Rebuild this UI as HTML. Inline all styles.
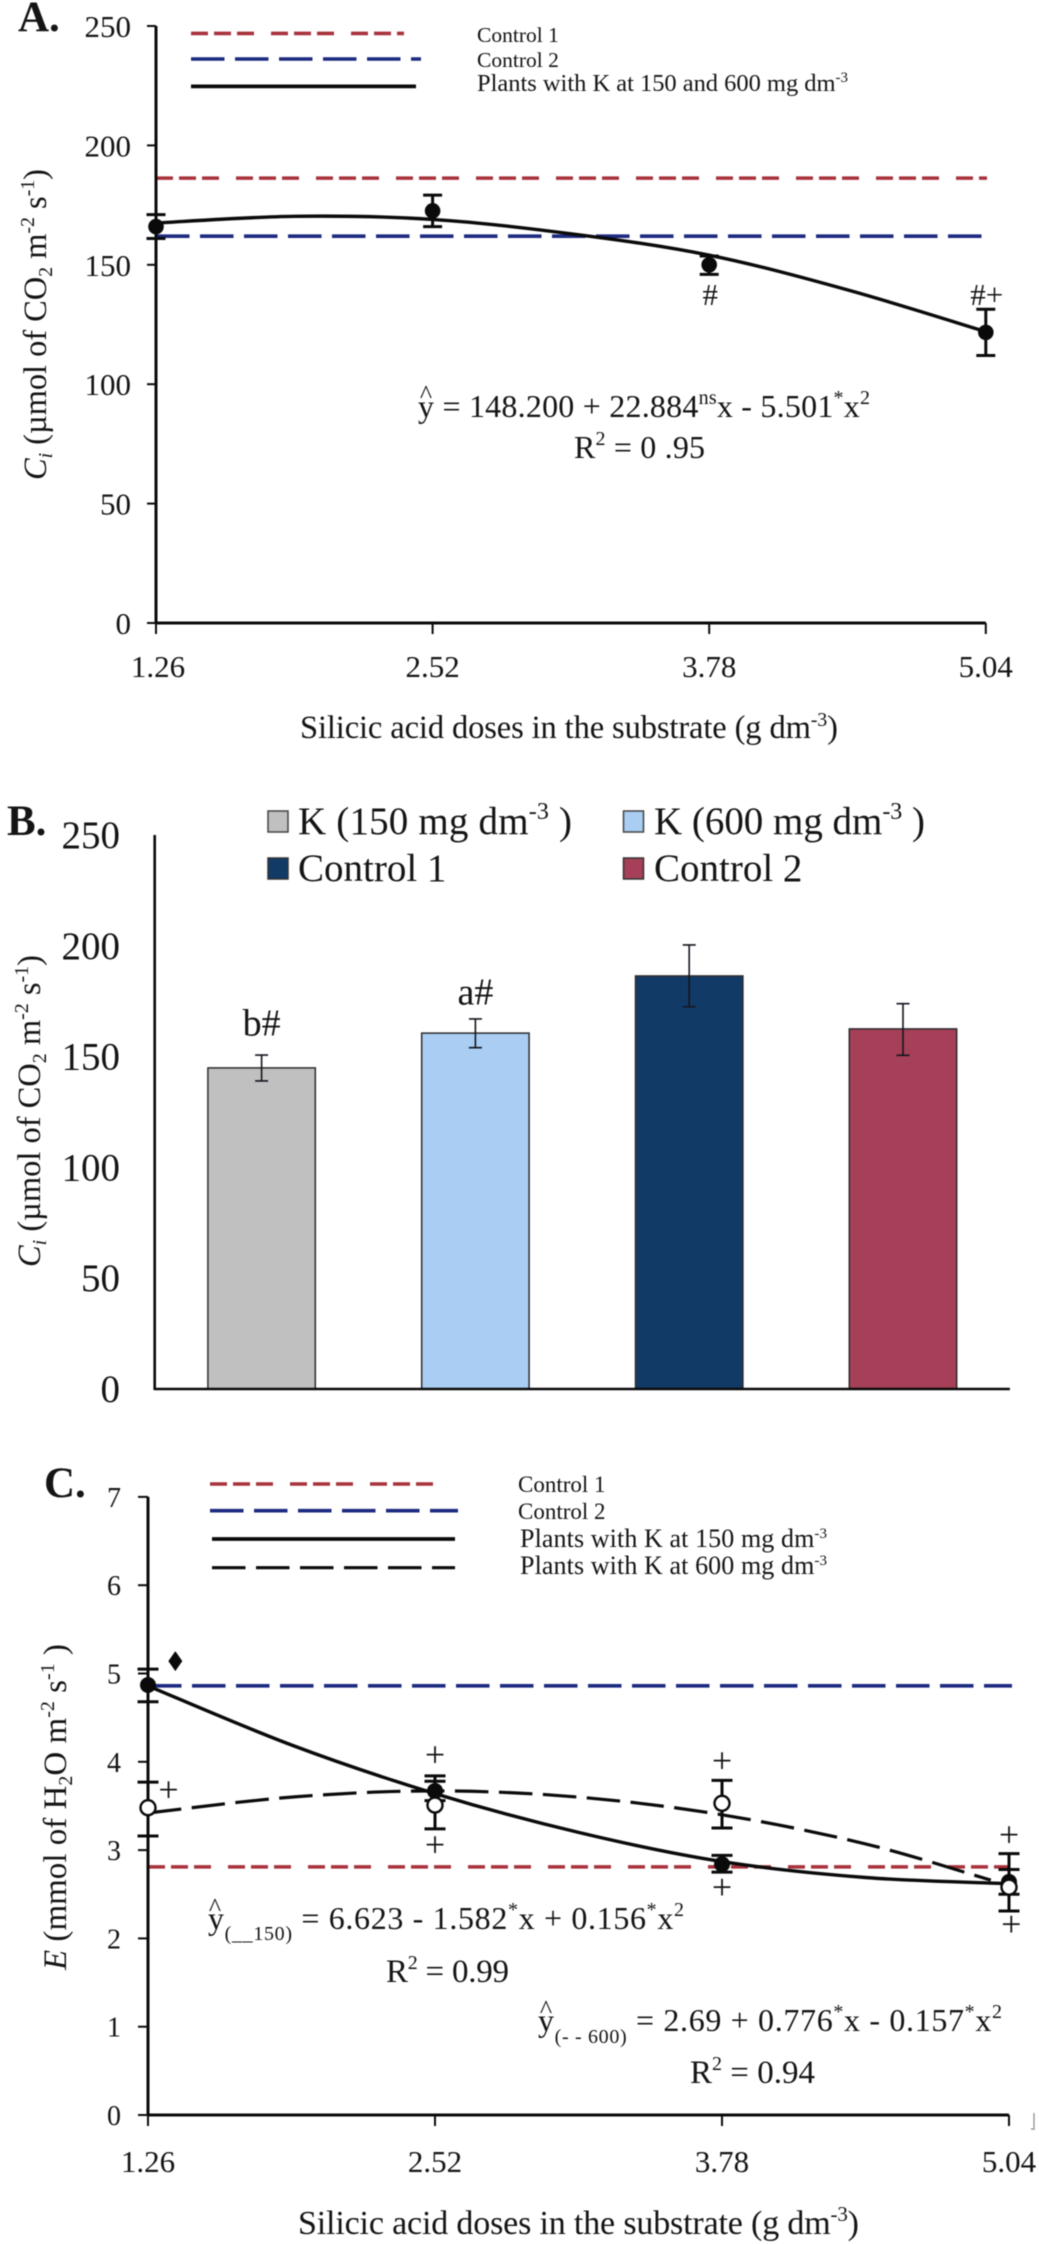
<!DOCTYPE html>
<html lang="en">
<head>
<meta charset="utf-8">
<title>Ci and E versus silicic acid doses</title>
<style>
html,body{margin:0;padding:0;background:#fff;width:1039px;height:2244px;overflow:hidden}
svg{display:block;filter:blur(0.45px)}
text{font-family:"Liberation Serif",serif;fill:#141414}
</style>
</head>
<body>
<svg id="figure" xmlns="http://www.w3.org/2000/svg" width="1039" height="2244" viewBox="0 0 1039 2244">
<rect width="1039" height="2244" fill="#fff"/>

<g id="panel-a"></g>
<g id="panel-b"></g>
<g id="panel-c"></g>

<g>
<text x="18" y="31" font-size="43" font-weight="bold">A.</text>
<text x="477" y="42" font-size="21.5">Control 1</text>
<text x="477" y="67" font-size="21.5">Control 2</text>
<text x="477" y="91" font-size="24.5" textLength="371">Plants with K at 150 and 600 mg dm<tspan font-size="15" dy="-9">-3</tspan></text>
<text transform="translate(46,480) rotate(-90)" font-size="32.5" textLength="311"><tspan font-style="italic">C</tspan><tspan font-style="italic" font-size="20" dy="6">i</tspan><tspan dy="-6"> (µmol of CO</tspan><tspan font-size="20" dy="6">2</tspan><tspan dy="-6"> m</tspan><tspan font-size="20" dy="-12">-2</tspan><tspan dy="12"> s</tspan><tspan font-size="20" dy="-12">-1</tspan><tspan dy="12">)</tspan></text>
<text x="300" y="738" font-size="32.5" textLength="538">Silicic acid doses in the substrate (g dm<tspan font-size="20" dy="-12">-3</tspan><tspan dy="12">)</tspan></text>
<text x="426" y="403" font-size="26" text-anchor="middle">^</text>
<text x="418" y="417" font-size="32" textLength="452">y = 148.200 + 22.884<tspan font-size="20" dy="-13">ns</tspan><tspan dy="13">x - 5.501</tspan><tspan font-size="20" dy="-13">*</tspan><tspan dy="13">x</tspan><tspan font-size="20" dy="-13">2</tspan></text>
<text x="574" y="458" font-size="32" textLength="131">R<tspan font-size="20" dy="-13">2</tspan><tspan dy="13"> = 0 .95</tspan></text>
</g>

<g>
<text x="7" y="835" font-size="43" font-weight="bold">B.</text>
<rect x="268" y="811" width="20" height="21" fill="#c0c0c0" stroke="#444" stroke-width="1.5"/>
<text x="298" y="834" font-size="39" textLength="274">K (150 mg dm<tspan font-size="24" dy="-15">-3</tspan><tspan dy="15"> )</tspan></text>
<rect x="623.5" y="811" width="20" height="21" fill="#a9cdf3" stroke="#444" stroke-width="1.5"/>
<text x="654" y="834" font-size="39" textLength="271">K (600 mg dm<tspan font-size="24" dy="-15">-3</tspan><tspan dy="15"> )</tspan></text>
<rect x="268" y="858" width="20" height="21" fill="#123a66" stroke="#333" stroke-width="1.5"/>
<text x="298" y="881" font-size="39">Control 1</text>
<rect x="623.5" y="858" width="20" height="21" fill="#a54058" stroke="#333" stroke-width="1.5"/>
<text x="654" y="881" font-size="39">Control 2</text>
<text transform="translate(40,1267) rotate(-90)" font-size="32.5" textLength="312"><tspan font-style="italic">C</tspan><tspan font-style="italic" font-size="20" dy="6">i</tspan><tspan dy="-6"> (µmol of CO</tspan><tspan font-size="20" dy="6">2</tspan><tspan dy="-6"> m</tspan><tspan font-size="20" dy="-12">-2</tspan><tspan dy="12"> s</tspan><tspan font-size="20" dy="-12">-1</tspan><tspan dy="12">)</tspan></text>
</g>

<g>
<text x="44" y="1497" font-size="43" font-weight="bold">C.</text>
<text x="518" y="1492" font-size="23">Control 1</text>
<text x="518" y="1519" font-size="23">Control 2</text>
<text x="520" y="1547" font-size="26" textLength="307">Plants with K at 150 mg dm<tspan font-size="15" dy="-9">-3</tspan></text>
<text x="520" y="1574" font-size="26" textLength="307">Plants with K at 600 mg dm<tspan font-size="15" dy="-9">-3</tspan></text>
<text transform="translate(66,1970) rotate(-90)" font-size="33" textLength="326"><tspan font-style="italic">E</tspan> (mmol of H<tspan font-size="20" dy="6">2</tspan><tspan dy="-6">O m</tspan><tspan font-size="20" dy="-12">-2</tspan><tspan dy="12"> s</tspan><tspan font-size="20" dy="-12">-1</tspan><tspan dy="12"> )</tspan></text>
<text x="298" y="2234" font-size="34" textLength="561">Silicic acid doses in the substrate (g dm<tspan font-size="21" dy="-13">-3</tspan><tspan dy="13">)</tspan></text>
<text x="215" y="1916" font-size="26" text-anchor="middle">^</text>
<text x="208" y="1929" font-size="32" textLength="476">y<tspan font-size="20" dy="11">(__150)</tspan><tspan dy="-11"> = 6.623 - 1.582</tspan><tspan font-size="20" dy="-13">*</tspan><tspan dy="13">x + 0.156</tspan><tspan font-size="20" dy="-13">*</tspan><tspan dy="13">x</tspan><tspan font-size="20" dy="-13">2</tspan></text>
<text x="386" y="1982" font-size="33" textLength="123">R<tspan font-size="20" dy="-13">2</tspan><tspan dy="13"> = 0.99</tspan></text>
<text x="546" y="2018" font-size="26" text-anchor="middle">^</text>
<text x="538" y="2031" font-size="32" textLength="464">y<tspan font-size="20" dy="12">(- - 600)</tspan><tspan dy="-12"> = 2.69 + 0.776</tspan><tspan font-size="20" dy="-13">*</tspan><tspan dy="13">x - 0.157</tspan><tspan font-size="20" dy="-13">*</tspan><tspan dy="13">x</tspan><tspan font-size="20" dy="-13">2</tspan></text>
<text x="690" y="2083" font-size="33" textLength="125">R<tspan font-size="20" dy="-13">2</tspan><tspan dy="13"> = 0.94</tspan></text>
<path d="M1034 2113V2128M1031 2129H1035" stroke="#888" stroke-width="1.2" fill="none"/>
</g>

<script>
/* Panel A data */
const aDoseTicks = [1.26, 2.52, 3.78, 5.04];
const aDoseLabels = ['1.26', '2.52', '3.78', '5.04'];
const aYTicks = [0, 50, 100, 150, 200, 250];
const aMeans = [166, 172.6, 150, 121.7];
const aErrTop = [171, 179.2, 153.7, 131.4];
const aErrBottom = [161, 166, 146, 112];
const aFitDoses = [1.26, 1.89, 2.52, 3.15, 3.78, 4.41, 5.04];
const aFitValues = [167.5, 170.3, 169, 163, 154, 139.5, 122];
const aControl1 = 186.3;
const aControl2 = 162;
const aSigLabels = ['', '', '#', '#+'];
const aSigValues = [0, 0, 133.2, 133.2];

/* Panel B data */
const bCategories = ['K 150', 'K 600', 'Control 1', 'Control 2'];
const bValues = [144.9, 160.6, 186.4, 162.5];
const bErrTop = [150.7, 167, 200.4, 173.9];
const bErrBottom = [139, 154, 172.5, 150.6];
const bLabels = ['b#', 'a#', '', ''];
const bLabelValues = [159.5, 173.5, 0, 0];
const bYTicks = [0, 50, 100, 150, 200, 250];
const bFills = ['#c0c0c0', '#a9cdf3', '#123a66', '#a54058'];

/* Panel C data */
const cDoseTicks = [1.26, 2.52, 3.78, 5.04];
const cDoseLabels = ['1.26', '2.52', '3.78', '5.04'];
const cYTicks = [0, 1, 2, 3, 4, 5, 6, 7];
const cMeans150 = [4.87, 3.67, 2.84, 2.64];
const cErrTop150 = [5.05, 3.78, 2.94, 2.78];
const cErrBottom150 = [4.68, 3.56, 2.75, 2.5];
const cMeans600 = [3.48, 3.51, 3.53, 2.58];
const cErrTop600 = [3.77, 3.84, 3.79, 2.96];
const cErrBottom600 = [3.16, 3.24, 3.25, 2.31];
const cFit150Doses = [1.26, 1.89, 2.52, 3.15, 3.78, 4.41, 5.04];
const cFit150Values = [4.86, 4.19, 3.64, 3.2, 2.87, 2.69, 2.62];
const cFit600Doses = [1.26, 1.89, 2.52, 3.15, 3.78, 4.41, 4.96];
const cFit600Values = [3.42, 3.6, 3.67, 3.6, 3.4, 3.07, 2.66];
const cControl1 = 2.81;
const cControl2 = 4.86;
const cPlusDoses = [1.35, 2.52, 2.52, 3.78, 3.78, 5.04, 5.05];
const cPlusValues = [3.65, 4.05, 3.03, 3.98, 2.55, 3.14, 2.13];
const cDiamondDose = 1.38;
const cDiamondValue = 5.14;

/* Axis functions */
const xA = v => 156 + (v - 1.26) * 276.6 / 1.26;
const yA = v => 623 - v * 2.388;
const yB = v => 1389 - v * 2.216;
const bBand = 213.8;
const xB = i => 154.7 + bBand * (i + 0.5);
const xC = v => 148 + (v - 1.26) * 287 / 1.26;
const yC = v => 2115 - v * 88.3;

const NS = 'http://www.w3.org/2000/svg';
const RED = '#a8323c';
const BLUE = '#1c2a80';
const BLACK = '#0a0a0a';
const RED_DASH = '17 6 17 6 17 17';
const BLUE_DASH = '33.5 10.5';

function mk(tag, attrs, parent, txt) {
  const el = document.createElementNS(NS, tag);
  for (const k in attrs) el.setAttribute(k, attrs[k]);
  if (txt !== undefined) el.textContent = txt;
  parent.appendChild(el);
  return el;
}
function smooth(pts) {
  let d = 'M' + pts[0][0].toFixed(1) + ' ' + pts[0][1].toFixed(1);
  for (let i = 0; i < pts.length - 1; i++) {
    const p0 = pts[Math.max(i - 1, 0)], p1 = pts[i], p2 = pts[i + 1], p3 = pts[Math.min(i + 2, pts.length - 1)];
    const c1x = p1[0] + (p2[0] - p0[0]) / 6, c1y = p1[1] + (p2[1] - p0[1]) / 6;
    const c2x = p2[0] - (p3[0] - p1[0]) / 6, c2y = p2[1] - (p3[1] - p1[1]) / 6;
    d += 'C' + c1x.toFixed(1) + ' ' + c1y.toFixed(1) + ' ' + c2x.toFixed(1) + ' ' + c2y.toFixed(1) + ' ' + p2[0].toFixed(1) + ' ' + p2[1].toFixed(1);
  }
  return d;
}
function hline(parent, x1, x2, y, color, width, dash) {
  const attrs = {x1: x1, x2: x2, y1: y, y2: y, stroke: color, 'stroke-width': width};
  if (dash) attrs['stroke-dasharray'] = dash;
  return mk('line', attrs, parent);
}
function errPath(x, yt, yb, half) {
  return 'M' + (x - half) + ' ' + yt + 'H' + (x + half) + 'M' + x + ' ' + yt + 'V' + yb + 'M' + (x - half) + ' ' + yb + 'H' + (x + half);
}

/* ---------- Panel A ---------- */
const pa = document.getElementById('panel-a');

const aLeg1 = hline(pa, 191, 404, 33.4, RED, 3.6, RED_DASH);


const aLeg2 = hline(pa, 191, 421, 59, BLUE, 3.6, BLUE_DASH);


const aLeg3 = hline(pa, 191, 416, 86.4, BLACK, 3.8);



aYTicks.forEach(function (t) {
  const tick = hline(pa, 147, 156, yA(t), BLACK, 2);
  
  
  const label = mk('text', {x: 131, y: yA(t) + 11, 'font-size': 31, 'text-anchor': 'end'}, pa, String(t));
  
  
});
aDoseTicks.forEach(function (t, i) {
  const tick = mk('line', {x1: xA(t), x2: xA(t), y1: 623, y2: 634, stroke: BLACK, 'stroke-width': 2}, pa);
  
  
  const label = mk('text', {x: xA(t) + (i === 0 ? 2 : 0), y: 677, 'font-size': 31, 'text-anchor': 'middle'}, pa, aDoseLabels[i]);
  
  
});
const aRed = hline(pa, xA(1.26), 987, yA(aControl1), RED, 3.6, RED_DASH);


const aBlue = hline(pa, xA(1.26), 987, yA(aControl2), BLUE, 3.6, BLUE_DASH);


const aFit = mk('path', {d: smooth(aFitDoses.map(function (d, i) { return [xA(d), yA(aFitValues[i])]; })), fill: 'none', stroke: BLACK, 'stroke-width': 3.4}, pa);


const aYAxis = mk('line', {x1: 156, x2: 156, y1: yA(250), y2: 624, stroke: BLACK, 'stroke-width': 3}, pa);


const aXAxis = hline(pa, 155, xA(5.04), 623, BLACK, 3);


aMeans.forEach(function (m, i) {
  const x = xA(aDoseTicks[i]);
  const err = mk('path', {d: errPath(x, yA(aErrTop[i]), yA(aErrBottom[i]), 9.5), fill: 'none', stroke: BLACK, 'stroke-width': 3}, pa);
  
  
  const pt = mk('circle', {cx: x, cy: yA(m), r: 7.8, fill: BLACK}, pa);
  
  
  if (aSigLabels[i]) {
    const sig = mk('text', {x: x + 1, y: yA(aSigValues[i]), 'font-size': 31, 'text-anchor': 'middle'}, pa, aSigLabels[i]);
    
    
  }
});

/* ---------- Panel B ---------- */
const pb = document.getElementById('panel-b');
bYTicks.forEach(function (t) {
  const label = mk('text', {x: 120, y: yB(t) + 13, 'font-size': 39, 'text-anchor': 'end'}, pb, String(t));
  
  
});
bValues.forEach(function (v, i) {
  const cx = xB(i);
  const bar = mk('rect', {x: cx - 53.7, y: yB(v), width: 107.4, height: yB(0) - yB(v), fill: bFills[i], stroke: '#2c2c2c', 'stroke-width': 1.5}, pb);
  
  
  const err = mk('path', {d: errPath(cx, yB(bErrTop[i]), yB(bErrBottom[i]), 6.5), fill: 'none', stroke: '#15151f', 'stroke-width': 1.6}, pb);
  
  
  if (bLabels[i]) {
    const lab = mk('text', {x: cx, y: yB(bLabelValues[i]), 'font-size': 38, 'text-anchor': 'middle'}, pb, bLabels[i]);
    
    
  }
});
const bYAxis = mk('line', {x1: 154.7, x2: 154.7, y1: yB(250), y2: 1390, stroke: BLACK, 'stroke-width': 2.6}, pb);


const bXAxis = hline(pb, 154, 154.7 + bBand * bCategories.length, 1389, BLACK, 2.6);



/* ---------- Panel C ---------- */
const pc = document.getElementById('panel-c');
const cLeg1 = hline(pc, 210, 440, 1484, RED, 3.6, RED_DASH);


const cLeg2 = hline(pc, 210, 458, 1510.7, BLUE, 3.6, BLUE_DASH);


const cLeg3 = hline(pc, 212, 455, 1539, BLACK, 3.8);


const cLeg4 = hline(pc, 212, 455, 1567.7, BLACK, 3.2, BLUE_DASH);



cYTicks.forEach(function (t) {
  const tick = hline(pc, 138, 148, yC(t), BLACK, 2);
  
  
  const label = mk('text', {x: 121, y: yC(t) + 10, 'font-size': 28, 'text-anchor': 'end'}, pc, String(t));
  
  
});
cDoseTicks.forEach(function (t, i) {
  const tick = mk('line', {x1: xC(t), x2: xC(t), y1: 2115, y2: 2126, stroke: BLACK, 'stroke-width': 2}, pc);
  
  
  const label = mk('text', {x: xC(t), y: 2172, 'font-size': 31, 'text-anchor': 'middle'}, pc, cDoseLabels[i]);
  
  
});
const cRed = hline(pc, xC(1.26), 1010, yC(cControl1), RED, 3.6, RED_DASH);


const cBlue = hline(pc, xC(1.26), 1012, yC(cControl2), BLUE, 3.6, BLUE_DASH);


const cYAxis = mk('line', {x1: 148, x2: 148, y1: yC(7), y2: 2116, stroke: BLACK, 'stroke-width': 3}, pc);


const cXAxis = hline(pc, 147, xC(5.04), 2115, BLACK, 3);


const cFit600 = mk('path', {d: smooth(cFit600Doses.map(function (d, i) { return [xC(d), yC(cFit600Values[i])]; })), fill: 'none', stroke: BLACK, 'stroke-width': 3.2, 'stroke-dasharray': BLUE_DASH}, pc);


const cFit150 = mk('path', {d: smooth(cFit150Doses.map(function (d, i) { return [xC(d), yC(cFit150Values[i])]; })), fill: 'none', stroke: BLACK, 'stroke-width': 3.4}, pc);


cMeans150.forEach(function (m, i) {
  const x = xC(cDoseTicks[i]);
  const err = mk('path', {d: errPath(x, yC(cErrTop150[i]), yC(cErrBottom150[i]), 10.5), fill: 'none', stroke: BLACK, 'stroke-width': 3}, pc);
  
  
  const errOpen = mk('path', {d: errPath(x, yC(cErrTop600[i]), yC(cErrBottom600[i]), 10.5), fill: 'none', stroke: BLACK, 'stroke-width': 3}, pc);
  
  
  const pt = mk('circle', {cx: x, cy: yC(m), r: 8, fill: BLACK}, pc);
  
  
});
cMeans600.forEach(function (m, i) {
  const pt = mk('circle', {cx: xC(cDoseTicks[i]), cy: yC(m), r: 7.5, fill: '#fff', stroke: BLACK, 'stroke-width': 2.4}, pc);
  
  
});
cPlusDoses.forEach(function (d, i) {
  const plus = mk('text', {x: xC(d), y: yC(cPlusValues[i]) + 9, 'font-size': 36, 'text-anchor': 'middle'}, pc, '+');
  
  
});
const dx = xC(cDiamondDose);
const dy = yC(cDiamondValue);
const diamond = mk('polygon', {points: dx + ',' + (dy - 10) + ' ' + (dx + 7) + ',' + dy + ' ' + dx + ',' + (dy + 10) + ' ' + (dx - 7) + ',' + dy, fill: BLACK}, pc);


</script>
</svg>
</body>
</html>
